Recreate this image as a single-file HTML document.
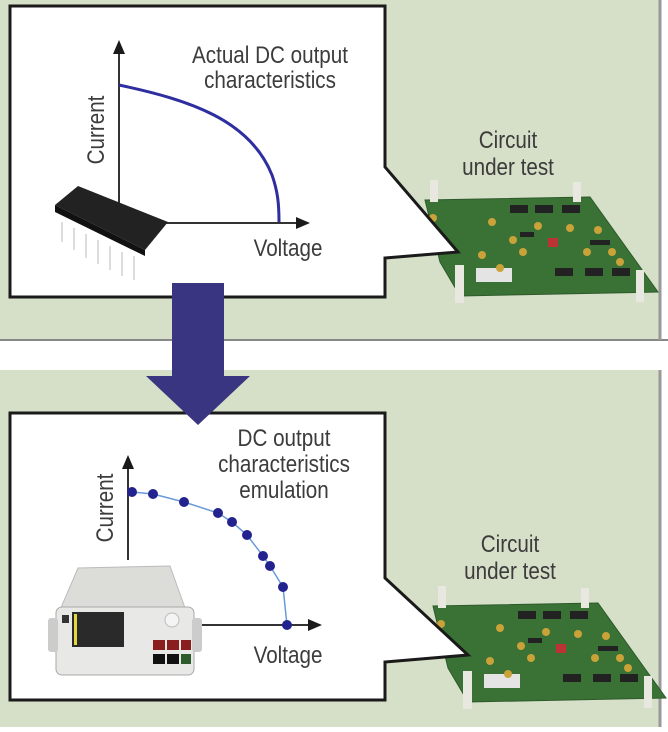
<!DOCTYPE html>
<html><head><meta charset="utf-8"><style>
body{margin:0;width:668px;height:727px;overflow:hidden;background:#fff;font-family:"Liberation Sans",sans-serif}
svg text{font-family:"Liberation Sans",sans-serif;fill:#3c3c3c;font-size:24px;text-anchor:middle}
</style></head><body>
<svg width="668" height="727" viewBox="0 0 668 727" xmlns="http://www.w3.org/2000/svg">
<rect x="0" y="0" width="668" height="727" fill="#fff"/>
<rect x="0" y="0" width="660" height="340" fill="#d6dfc8"/>
<line x1="0" y1="340" x2="668" y2="340" stroke="#888" stroke-width="2"/>
<line x1="660" y1="0" x2="660" y2="340" stroke="#999" stroke-width="3"/>
<rect x="0" y="370" width="660" height="357" fill="#d6dfc8"/>
<line x1="660" y1="370" x2="660" y2="727" stroke="#999" stroke-width="3"/>

<g id="b1">
<polygon points="425,200 590,197 658,292 460,296 440,262" fill="#3a7236" stroke="#2d5a2a"/>
<rect x="430" y="180" width="8" height="22" fill="#e8e8e0"/>
<rect x="573" y="182" width="8" height="20" fill="#e8e8e0"/>
<rect x="455" y="265" width="9" height="38" fill="#e8e8e0"/>
<rect x="636" y="270" width="8" height="32" fill="#e8e8e0"/>
<rect x="476" y="268" width="36" height="14" fill="#e4e4e4"/>
<rect x="510" y="205" width="18" height="8" fill="#222"/><rect x="535" y="205" width="18" height="8" fill="#222"/><rect x="562" y="205" width="18" height="8" fill="#222"/>
<rect x="555" y="268" width="18" height="8" fill="#222"/><rect x="585" y="268" width="18" height="8" fill="#222"/><rect x="612" y="268" width="18" height="8" fill="#222"/>
<rect x="520" y="232" width="14" height="5" fill="#222"/><rect x="590" y="240" width="20" height="5" fill="#222"/>
<rect x="548" y="238" width="10" height="9" fill="#b33"/>
<g fill="#c9a23a"><circle cx="492" cy="222" r="4"/><circle cx="513" cy="240" r="4"/><circle cx="538" cy="226" r="4"/><circle cx="570" cy="228" r="4"/><circle cx="598" cy="230" r="4"/><circle cx="523" cy="252" r="4"/><circle cx="587" cy="252" r="4"/><circle cx="612" cy="252" r="4"/><circle cx="482" cy="255" r="4"/><circle cx="433" cy="218" r="4"/><circle cx="500" cy="268" r="4"/><circle cx="620" cy="262" r="4"/></g>
</g>
<use href="#b1" transform="translate(8,406)"/>

<path d="M10,6 H385 V167 L458,252 L385,258 V297 H10 Z" fill="#fff" stroke="#1a1a1a" stroke-width="3"/>
<path d="M10,413 H385 V578 L468,655 L385,662 V700 H10 Z" fill="#fff" stroke="#1a1a1a" stroke-width="3"/>

<line x1="119" y1="223" x2="119" y2="52" stroke="#333" stroke-width="2"/>
<polygon points="119,40 113,54 125,54" fill="#1a1a1a"/>
<line x1="160" y1="223" x2="298" y2="223" stroke="#333" stroke-width="2"/>
<polygon points="310,223 296,217 296,229" fill="#1a1a1a"/>
<path d="M119,85 C190,100 250,120 272,175 C278,192 279,205 279,222" fill="none" stroke="#2e2ea0" stroke-width="3"/>
<text transform="translate(270,63) scale(0.86,1)">Actual DC output</text>
<text transform="translate(270,88) scale(0.86,1)">characteristics</text>
<text transform="translate(104,130) rotate(-90) scale(0.86,1)">Current</text>
<text transform="translate(288,256) scale(0.86,1)">Voltage</text>
<g>
<g stroke="#ddd" stroke-width="2"><line x1="62" y1="222" x2="62" y2="242"/><line x1="74" y1="228" x2="74" y2="250"/><line x1="86" y1="234" x2="86" y2="258"/><line x1="98" y1="240" x2="98" y2="264"/><line x1="110" y1="246" x2="110" y2="270"/><line x1="122" y1="252" x2="122" y2="276"/><line x1="134" y1="256" x2="134" y2="280"/></g>
<polygon points="55,205 78,186 168,222 145,250" fill="#222"/>
<polygon points="55,205 145,250 145,256 55,212" fill="#111"/>
</g>

<polygon points="172,283 224,283 224,376 250,376 198,425 146,376 172,376" fill="#3a3580"/>

<line x1="128" y1="560" x2="128" y2="468" stroke="#333" stroke-width="2"/>
<polygon points="128,455 122,469 134,469" fill="#1a1a1a"/>
<line x1="200" y1="625" x2="310" y2="625" stroke="#333" stroke-width="2"/>
<polygon points="322,625 308,619 308,631" fill="#1a1a1a"/>
<polyline points="132,492 153,494 184,502 218,513 232,522 247,535 263,556 270,566 283,587 287,625" fill="none" stroke="#6a9ad8" stroke-width="1.5"/>
<g fill="#23238f"><circle cx="132" cy="492" r="5"/><circle cx="153" cy="494" r="5"/><circle cx="184" cy="502" r="5"/><circle cx="218" cy="513" r="5"/><circle cx="232" cy="522" r="5"/><circle cx="247" cy="535" r="5"/><circle cx="263" cy="556" r="5"/><circle cx="270" cy="566" r="5"/><circle cx="283" cy="587" r="5"/><circle cx="287" cy="625" r="5"/></g>
<text transform="translate(284,446) scale(0.86,1)">DC output</text>
<text transform="translate(284,472) scale(0.86,1)">characteristics</text>
<text transform="translate(284,498) scale(0.86,1)">emulation</text>
<text transform="translate(113,508) rotate(-90) scale(0.86,1)">Current</text>
<text transform="translate(288,663) scale(0.86,1)">Voltage</text>
<g>
<polygon points="78,568 170,566 185,608 60,610" fill="#dcdcd8" stroke="#bbb"/>
<rect x="56" y="607" width="138" height="68" rx="6" fill="#e8e8e6" stroke="#aaa"/>
<rect x="48" y="618" width="10" height="34" rx="3" fill="#ccc"/>
<rect x="192" y="618" width="10" height="34" rx="3" fill="#ccc"/>
<rect x="72" y="612" width="52" height="35" fill="#2a2a2a"/>
<rect x="74" y="614" width="3" height="31" fill="#e6d640"/>
<rect x="62" y="615" width="7" height="8" fill="#333"/>
<rect x="153" y="640" width="12" height="10" fill="#8a1d1d"/><rect x="167" y="640" width="12" height="10" fill="#8a1d1d"/><rect x="181" y="640" width="10" height="10" fill="#8a1d1d"/>
<rect x="153" y="654" width="12" height="10" fill="#111"/><rect x="167" y="654" width="12" height="10" fill="#111"/><rect x="181" y="654" width="10" height="10" fill="#2d5a2d"/>
<circle cx="172" cy="620" r="7" fill="#f4f4f4" stroke="#bbb"/>
</g>

<text transform="translate(508,148) scale(0.86,1)">Circuit</text>
<text transform="translate(508,175) scale(0.86,1)">under test</text>
<text transform="translate(510,552) scale(0.86,1)">Circuit</text>
<text transform="translate(510,579) scale(0.86,1)">under test</text>
</svg>
</body></html>
